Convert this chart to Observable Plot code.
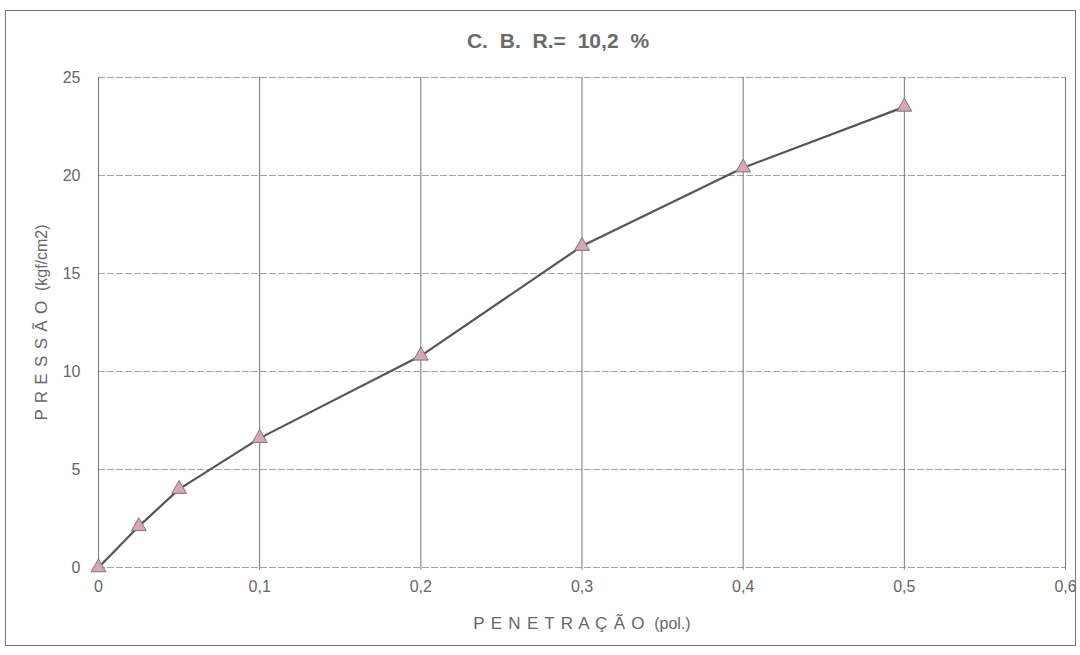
<!DOCTYPE html>
<html>
<head>
<meta charset="utf-8">
<script src="https://cdn.jsdelivr.net/npm/d3@7"></script>
<script src="https://cdn.jsdelivr.net/npm/@observablehq/plot@0.6"></script>
<style>
  body { margin: 0; background: #fff; width: 1080px; height: 655px; overflow: hidden; position: relative; font-family: "Liberation Sans", Arial, sans-serif; }
  #frame { position: absolute; left: 5px; top: 10px; width: 1071px; height: 636px; border: 1px solid #777; box-sizing: border-box; }
  #title { position: absolute; left: 18px; width: 1080px; top: 29px; text-align: center; font-size: 21px; font-weight: bold; color: #6a6a6a; word-spacing: 6px; font-family: "Liberation Sans Narrow", "Liberation Sans", Arial, sans-serif; }
  #chart { position: absolute; left: 0; top: 60px; }
</style>
</head>
<body>
<div id="frame"></div>
<div id="title">C. B. R.= 10,2 %</div>
<div id="chart"></div>
<script>
const penetracao = [0, 0.025, 0.05, 0.1, 0.2, 0.3, 0.4, 0.5];
const pressao = [0, 2.1, 4.0, 6.6, 10.8, 16.4, 20.4, 23.5];
const xTicks = [0, 0.1, 0.2, 0.3, 0.4, 0.5, 0.6];
const yTicks = [0, 5, 10, 15, 20, 25];
const xLabelMain = "P E N E T R A Ç Ã O";
const xLabelUnit = "(pol.)";
const yLabelMain = "P R E S S Ã O";
const yLabelUnit = "(kgf/cm2)";

const data = penetracao.map((x, i) => ({x, y: pressao[i]}));
const fmt = d => String(d).replace(".", ",");
const xLabel = xLabelMain + "  " + xLabelUnit;
const yLabel = yLabelMain + "  " + yLabelUnit;

const plot = Plot.plot({
  width: 1080,
  height: 590,
  marginTop: 17,
  marginLeft: 98,
  marginRight: 15,
  marginBottom: 83,
  style: { fontFamily: "Liberation Sans, Arial, sans-serif", fontSize: "16px", color: "#666", background: "transparent" },
  x: { domain: [0, 0.6] },
  y: { domain: [0, 25] },
  marks: [
    Plot.gridY(yTicks, { stroke: "#999", strokeOpacity: 0.9, strokeWidth: 1, strokeDasharray: "7,2" }),
    Plot.gridX(xTicks, { stroke: "#666", strokeOpacity: 0.9, strokeWidth: 1 }),
    Plot.axisX(xTicks, { tickFormat: fmt, tickSize: 3, tickPadding: 10, stroke: "#888", label: xLabel, labelAnchor: "center", labelArrow: "none", labelOffset: 61, fontSize: 16 }),
    Plot.axisY(yTicks, { tickSize: 0, tickPadding: 18, label: yLabel, labelAnchor: "center", labelArrow: "none", labelOffset: 63, fontSize: 16 }),
    Plot.line(data, { x: "x", y: "y", stroke: "#555", strokeWidth: 2.2 }),
    Plot.dot(data, { x: "x", y: "y", symbol: "triangle", r: 5.5, fill: "#d8a6b8", stroke: "#777", strokeWidth: 1 })
  ]
});
document.getElementById("chart").appendChild(plot);

// split axis labels into a spaced main part and a smaller unit part
for (const [full, main, unit] of [[xLabel, xLabelMain, xLabelUnit], [yLabel, yLabelMain, yLabelUnit]]) {
  plot.querySelectorAll("text").forEach(t => {
    if (t.textContent === full) {
      t.textContent = "";
      const ns = "http://www.w3.org/2000/svg";
      const a = document.createElementNS(ns, "tspan");
      a.textContent = main;
      a.style.fontSize = "17px";
      a.style.letterSpacing = "0.8px";
      const b = document.createElementNS(ns, "tspan");
      b.textContent = "\u00a0\u00a0" + unit;
      b.style.fontSize = "16px";
      t.appendChild(a);
      t.appendChild(b);
    }
  });
}
</script>
</body>
</html>
